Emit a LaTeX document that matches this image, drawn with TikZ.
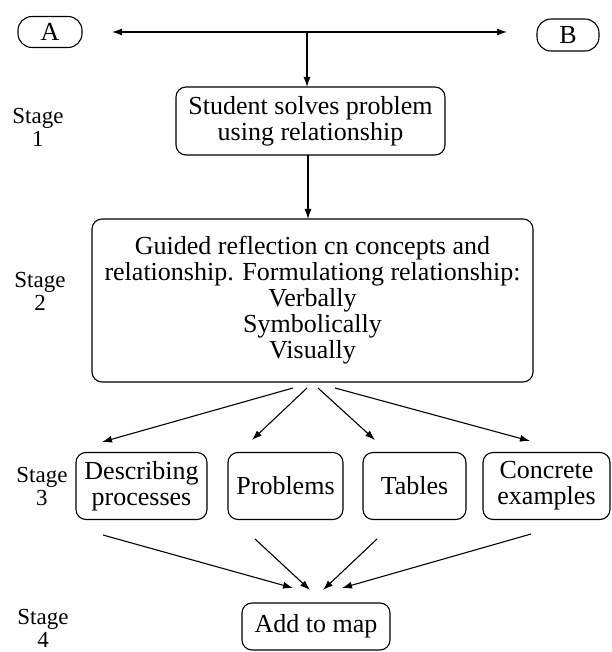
\documentclass[tikz,border=0pt]{standalone}
\usepackage{fontspec}
\setmainfont{Liberation Serif}
\usetikzlibrary{arrows.meta}
\begin{document}
\begin{tikzpicture}[x=1pt,y=-1pt,
  line width=1.1pt,
  box/.style={draw, rounded corners=10pt, inner sep=0pt, outer sep=0pt, align=center,
    font=\fontsize{26}{26}\selectfont},
  endbox/.style={box, rounded corners=14pt},
  stagelabel/.style={align=center, inner sep=0pt, font=\fontsize{23}{23}\selectfont},
  arr/.style={-{Latex[length=10pt,width=7pt]}},
  dblarr/.style={{Latex[length=10pt,width=7pt]}-{Latex[length=10pt,width=7pt]}}
]
\useasboundingbox (0,0) rectangle (611,652);

% end points A and B
\node[endbox, minimum width=64pt, minimum height=31pt] (A) at (50,32) {A};
\node[endbox, minimum width=62pt, minimum height=32pt] (B) at (568,35) {B};

% stage 1
\node[box, minimum width=269pt, minimum height=68pt] (solve) at (310.5,121)
  {Student solves problem\\using relationship};

% stage 2
\node[box, minimum width=441pt, minimum height=163pt] (reflect) at (312.5,300.5)
  {Guided reflection cn concepts and\\relationship. Formulationg relationship:\\Verbally\\Symbolically\\Visually};

% stage 3
\node[box, minimum width=131pt, minimum height=67pt] (desc) at (141.5,486) {Describing\\processes};
\node[box, minimum width=115pt, minimum height=67pt] (prob) at (285.5,486) {Problems};
\node[box, minimum width=103pt, minimum height=67pt] (tab) at (414.5,486) {Tables};
\node[box, minimum width=127pt, minimum height=67pt] (conc) at (546.5,486) {Concrete\\examples};

% stage 4
\node[box, minimum width=148pt, minimum height=47pt] (map) at (316,626.5) {Add to map};

% stage labels
\node[stagelabel] (st1) at (38,127) {Stage\\1};
\node[stagelabel] (st2) at (40,291.5) {Stage\\2};
\node[stagelabel] (st3) at (42,486.5) {Stage\\3};
\node[stagelabel] (st4) at (43,628) {Stage\\4};

% top double arrow between A and B
\coordinate (la) at (112,32);
\coordinate (rb) at (507,32);
\coordinate (jn) at (307,32);
\draw[dblarr] (la) -- (rb);
\draw[arr] (jn) -- (jn |- solve.north);

% stage 1 to stage 2
\draw[arr] ([xshift=-2.5pt]solve.south) -- ([xshift=-4.5pt]reflect.north);

% fan out to stage 3
\coordinate (o1) at (293,388);  \coordinate (t1) at (102,442);
\coordinate (o2) at (307,388);  \coordinate (t2) at (252,440);
\coordinate (o3) at (318,388);  \coordinate (t3) at (375,440);
\coordinate (o4) at (335,388);  \coordinate (t4) at (530,441);
\draw[arr] (o1) -- (t1);
\draw[arr] (o2) -- (t2);
\draw[arr] (o3) -- (t3);
\draw[arr] (o4) -- (t4);

% converge to stage 4
\coordinate (u1) at (103,535);  \coordinate (v1) at (293,588);
\coordinate (u2) at (255,539);  \coordinate (v2) at (310,590);
\coordinate (u3) at (377,539);  \coordinate (v3) at (323,590);
\coordinate (u4) at (531,534);  \coordinate (v4) at (342,588);
\draw[arr] (u1) -- (v1);
\draw[arr] (u2) -- (v2);
\draw[arr] (u3) -- (v3);
\draw[arr] (u4) -- (v4);
\end{tikzpicture}
\end{document}
